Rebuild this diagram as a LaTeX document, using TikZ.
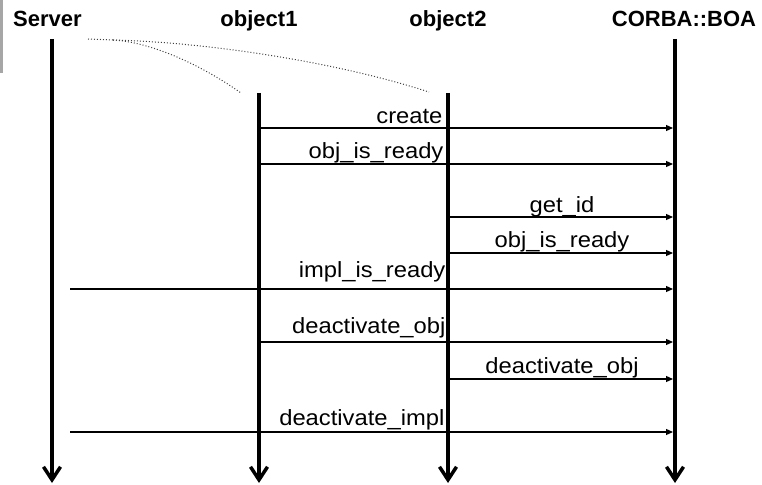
\documentclass[tikz,border=0pt]{standalone}
\usepackage{fontspec}
\setmainfont{Liberation Sans}
\newfontfamily\msgfont[FakeStretch=1.08]{Liberation Sans}
\usetikzlibrary{arrows.meta}
\tikzset{
	title/.style={font=\fontsize{22}{26}\selectfont\bfseries, inner sep=0, anchor=base},
	lifeline/.style={line width=3.5pt, -{Straight Barb[length=13pt,width=17pt]}},
	msg/.style={line width=1.2pt, -{Triangle[length=7pt,width=6pt]}, shorten >=2pt},
	lbl/.style={font=\fontsize{22}{26}\selectfont\msgfont, inner sep=0},
	note/.style={black!75, line width=1pt, dotted}
}
\begin{document}
\begin{tikzpicture}[x=1pt,y=-1pt]
	\useasboundingbox (0,0) rectangle (762,484);
	\fill[gray!70] (0,0) rectangle (3,73);

	% titles
	\node[title] (srvname) at (47.5,27) {Server};
	\node[title] (objaname) at (259,27) {object1};
	\node[title] (objbname) at (448,27) {object2};
	\node[title] (boaname) at (684,27) {CORBA::BOA};

	% lifelines
	\foreach \n/\x/\t in {srv/52/39, obja/259/93, objb/448/93, boa/675/39}
		\draw[lifeline] (\x,\t) coordinate (\n) -- (\x,483) coordinate (\n end);

	% calls
	\draw[msg] (obja |- 0,128) -- (boa |- 0,128) node[lbl, anchor=base east] at (443,124) {create};
	\draw[msg] (obja |- 0,164) -- (boa |- 0,164) node[lbl, anchor=base east] at (444,158) {obj\_is\_ready};
	\draw[msg] (objb |- 0,217) -- (boa |- 0,217) node[lbl, anchor=base] at (562,212) {get\_id};
	\draw[msg] (objb |- 0,253) -- (boa |- 0,253) node[lbl, anchor=base] at (562,247) {obj\_is\_ready};
	\draw[msg] ([xshift=18pt]srv |- 0,289) -- (boa |- 0,289) node[lbl, anchor=base east] at (446,277) {impl\_is\_ready};
	\draw[msg] (obja |- 0,342) -- (boa |- 0,342) node[lbl, anchor=base east] at (446,333) {deactivate\_obj};
	\draw[msg] (objb |- 0,379) -- (boa |- 0,379) node[lbl, anchor=base] at (562,373) {deactivate\_obj};
	\draw[msg] ([xshift=18pt]srv |- 0,432) -- (boa |- 0,432) node[lbl, anchor=base east] at (445,425) {deactivate\_impl};

	% note lines
	\coordinate (note) at (88,39);
	\coordinate (fork) at (113,40);
	\draw[note] (note) -- (fork);
	\draw[note] (fork) .. controls (150,42) and (200,64) .. (241,93);
	\draw[note] (fork) .. controls (200,42) and (330,60) .. (429,92);
\end{tikzpicture}
\end{document}
